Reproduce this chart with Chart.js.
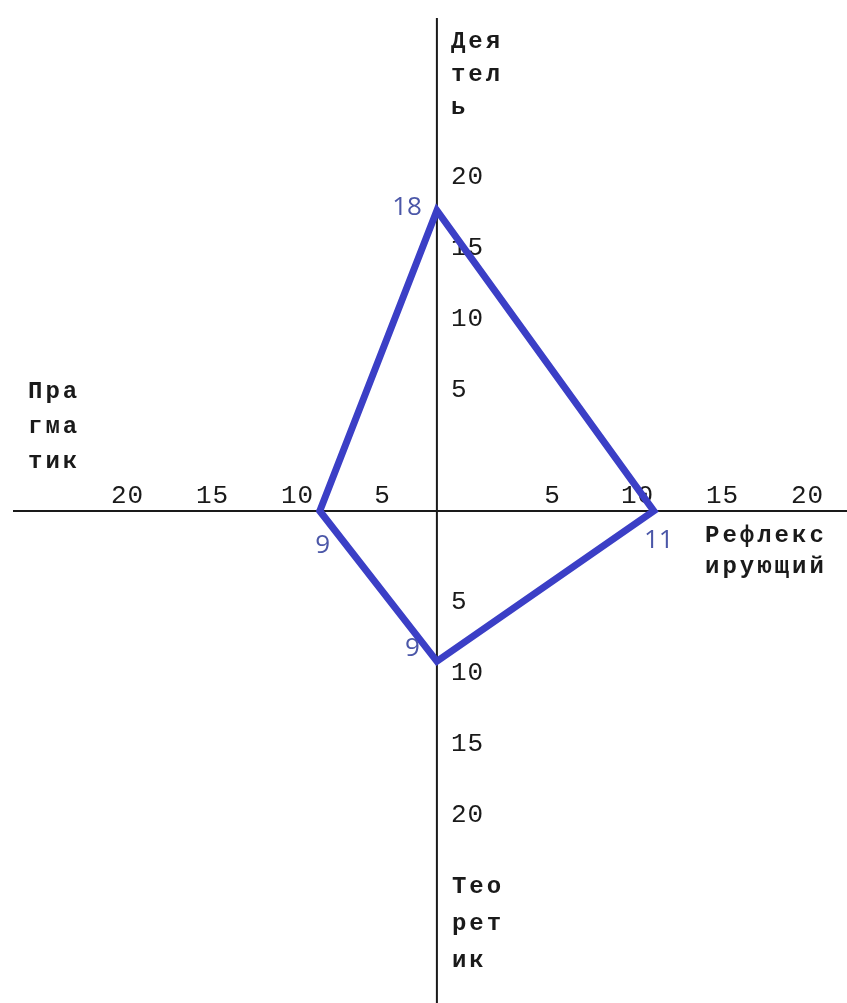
<!DOCTYPE html>
<html lang="ru">
<head>
    <meta charset="UTF-8">
    <title>Стили обучения</title>
    <style>
        html, body {
            margin: 0;
            padding: 0;
            background: #fff;
            overflow: hidden;
        }

        #chartContainer {
            width: 847px;
            height: 1003px;
        }
    </style>
</head>
<body>
    <div id="chartContainer">
        <canvas id="stylesChart"></canvas>
    </div>

    <script src="https://cdn.jsdelivr.net/npm/chart.js"></script>
    <script>
        // Данные: левый, верхний, правый, нижний луч
        const nameLines = [['Пра', 'гма', 'тик'], ['Дея', 'тел', 'ь'], ['Рефлекс', 'ирующий'], ['Тео', 'рет', 'ик']];
        const scores = [9, 18, 11, 9];
        const tickValues = [5, 10, 15, 20];

        const directions = [[-1, 0], [0, 1], [1, 0], [0, -1]];
        const points = scores.map((s, i) => ({ x: directions[i][0] * s, y: directions[i][1] * s }));
        points.push(points[0]); // замкнуть четырёхугольник

        // Шкала, у которой отрицательная полуось сжата (левая часть рисунка уже правой)
        class SplitLinearScale extends Chart.LinearScale {
            getPixelForValue(value) {
                const f = this.options.negativeFactor || 1;
                return super.getPixelForValue(value < 0 ? value * f : value);
            }
            getValueForPixel(pixel) {
                const f = this.options.negativeFactor || 1;
                const v = super.getValueForPixel(pixel);
                return v < 0 ? v / f : v;
            }
        }
        SplitLinearScale.id = 'splitLinear';
        Chart.register(SplitLinearScale);

        const ink = '#1a1a1a';
        const monoFont = '"Liberation Mono", "DejaVu Sans Mono", monospace';

        const crossAxes = {
            id: 'crossAxes',
            beforeDatasetsDraw(chart) {
                const { ctx, chartArea, scales: { x, y, tx, ty } } = chart;
                const cx = x.getPixelForValue(0);
                const cy = y.getPixelForValue(0);
                ctx.save();

                // оси
                ctx.strokeStyle = ink;
                ctx.lineWidth = 2;
                ctx.beginPath();
                ctx.moveTo(chartArea.left, cy);
                ctx.lineTo(chartArea.right, cy);
                ctx.moveTo(cx, chartArea.top);
                ctx.lineTo(cx, chartArea.bottom);
                ctx.stroke();

                // подписи делений
                ctx.fillStyle = ink;
                ctx.font = '26px ' + monoFont;
                ctx.letterSpacing = '1px';
                ctx.textBaseline = 'alphabetic';
                ctx.textAlign = 'center';
                tickValues.forEach(v => {
                    ctx.fillText(String(v), tx.getPixelForValue(-v), cy - 8);
                    ctx.fillText(String(v), tx.getPixelForValue(v), cy - 8);
                });
                const gap = 35;
                ctx.textAlign = 'left';
                tickValues.forEach(v => {
                    ctx.fillText(String(v), cx + 14, ty.getPixelForValue(v) - gap + 9);
                    ctx.fillText(String(v), cx + 14, ty.getPixelForValue(-v) + gap + 9);
                });

                // названия стилей
                ctx.font = 'bold 24px ' + monoFont;
                ctx.letterSpacing = '3px';
                const titleSpots = [
                    { x: chartArea.left + 15, y: cy - 113, lh: 35 },
                    { x: cx + 14, y: chartArea.top + 30, lh: 33 },
                    { x: chartArea.right - 142, y: cy + 31, lh: 31 },
                    { x: cx + 15, y: chartArea.bottom - 110, lh: 37 }
                ];
                nameLines.forEach((lines, i) => {
                    const s = titleSpots[i];
                    lines.forEach((line, j) => ctx.fillText(line, s.x, s.y + j * s.lh));
                });
                ctx.restore();
            },
            afterDatasetsDraw(chart) {
                const { ctx } = chart;
                const meta = chart.getDatasetMeta(0);
                const spots = [
                    { dx: 3, dy: 42, align: 'center' },
                    { dx: -15, dy: 5, align: 'right' },
                    { dx: 5, dy: 37, align: 'center' },
                    { dx: -17, dy: -5, align: 'right' }
                ];
                ctx.save();
                ctx.fillStyle = '#4b57a8';
                ctx.font = '26px "Open Sans", "Liberation Sans", sans-serif';
                ctx.textBaseline = 'alphabetic';
                scores.forEach((s, i) => {
                    const p = meta.data[i];
                    ctx.textAlign = spots[i].align;
                    ctx.fillText(String(s), p.x + spots[i].dx, p.y + spots[i].dy);
                });
                ctx.restore();
            }
        };

        new Chart(document.getElementById('stylesChart').getContext('2d'), {
            type: 'line',
            data: {
                datasets: [{
                    data: points,
                    xAxisID: 'x',
                    yAxisID: 'y',
                    borderColor: '#3b3fc6',
                    borderWidth: 7,
                    borderJoinStyle: 'miter',
                    borderCapStyle: 'round',
                    pointRadius: 0,
                    tension: 0,
                    fill: false
                }]
            },
            options: {
                responsive: true,
                maintainAspectRatio: false,
                animation: false,
                layout: { padding: { left: 13, top: 18, right: 0, bottom: 0 } },
                plugins: {
                    legend: { display: false },
                    tooltip: { enabled: false }
                },
                scales: {
                    x: { type: 'splitLinear', axis: 'x', min: -21.5, max: 20.8, negativeFactor: 0.66, bounds: 'data', display: false },
                    y: { type: 'linear', axis: 'y', min: -29.46, max: 29.52, bounds: 'data', display: false },
                    tx: { type: 'linear', axis: 'x', min: -26.74, max: 22.32, bounds: 'data', display: false },
                    ty: { type: 'linear', axis: 'y', min: -35.88, max: 33.49, bounds: 'data', display: false }
                }
            },
            plugins: [crossAxes]
        });
    </script>
</body>
</html>
